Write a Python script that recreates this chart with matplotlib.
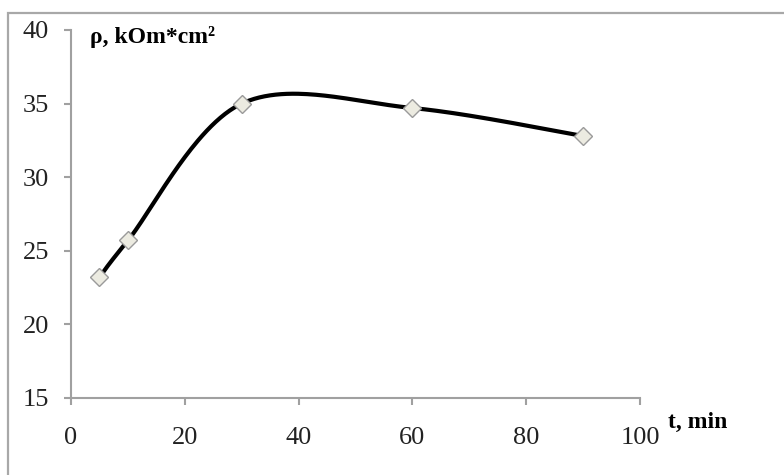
import matplotlib.pyplot as plt
import numpy as np
from matplotlib.patches import Rectangle

# data
t_min = [5, 10, 30, 60, 90]
rho = [23.2, 25.7, 35.0, 34.7, 32.8]
x_ticks = [0, 20, 40, 60, 80, 100]
y_ticks = [15, 20, 25, 30, 35, 40]


def smooth(xs, ys, n=60):
    # excel-like smoothed line: cubic bezier with catmull-rom control points
    px, py = np.array(xs, float), np.array(ys, float)
    outx, outy = [], []
    for i in range(len(px) - 1):
        p0 = np.array([px[max(i - 1, 0)], py[max(i - 1, 0)]])
        p1 = np.array([px[i], py[i]])
        p2 = np.array([px[i + 1], py[i + 1]])
        p3 = np.array([px[min(i + 2, len(px) - 1)], py[min(i + 2, len(px) - 1)]])
        c1 = p1 + (p2 - p0) / 6.
        c2 = p2 - (p3 - p1) / 6.
        s = np.linspace(0, 1, n)[:, None]
        b = (1 - s)**3 * p1 + 3 * (1 - s)**2 * s * c1 + 3 * (1 - s) * s**2 * c2 + s**3 * p2
        outx.extend(b[:, 0]); outy.extend(b[:, 1])
    return outx, outy


plt.rcParams['font.family'] = ['Liberation Serif', 'DejaVu Serif']
fig = plt.figure(figsize=(7.84, 4.75), dpi=100)
ax = fig.add_axes([71/784, 1 - 398/475, (640 - 71)/784, (398 - 30)/475])

# outer frame, only top and left edges show
fig.patches.append(Rectangle((8/784, -0.5), 2, 0.5 + (475 - 13)/475, transform=fig.transFigure,
                             fill=False, edgecolor='#a8a8a8', linewidth=1.6))

sx, sy = smooth(t_min, rho)
ax.plot(sx, sy, color='black', linewidth=3.0, solid_capstyle='round', zorder=2)
ax.plot(t_min, rho, linestyle='none', marker='D', markersize=9,
        markerfacecolor='#ecebe1', markeredgecolor='#9a9a9a', markeredgewidth=1.0, zorder=3)

ax.set_xlim(0, 100)
ax.set_ylim(15, 40)
ax.set_xticks(x_ticks)
ax.set_yticks(y_ticks)
for side in ['top', 'right']:
    ax.spines[side].set_visible(False)
for side in ['left', 'bottom']:
    ax.spines[side].set_color('#a0a0a0')
    ax.spines[side].set_linewidth(1.5)
ax.tick_params(axis='both', colors='#a0a0a0', length=5, width=1.5, labelcolor='#222222', labelsize=19)
ax.tick_params(axis='x', pad=16)
ax.tick_params(axis='y', pad=11)

fig.text(90/784, 1 - 37/475, 'ρ, kOm*cm²', fontsize=17,
         fontweight='bold', va='center', ha='left')
fig.text(668/784, 1 - 422/475, 't, min', fontsize=17, fontweight='bold', va='center', ha='left')

fig.savefig('out.png', dpi=100)
